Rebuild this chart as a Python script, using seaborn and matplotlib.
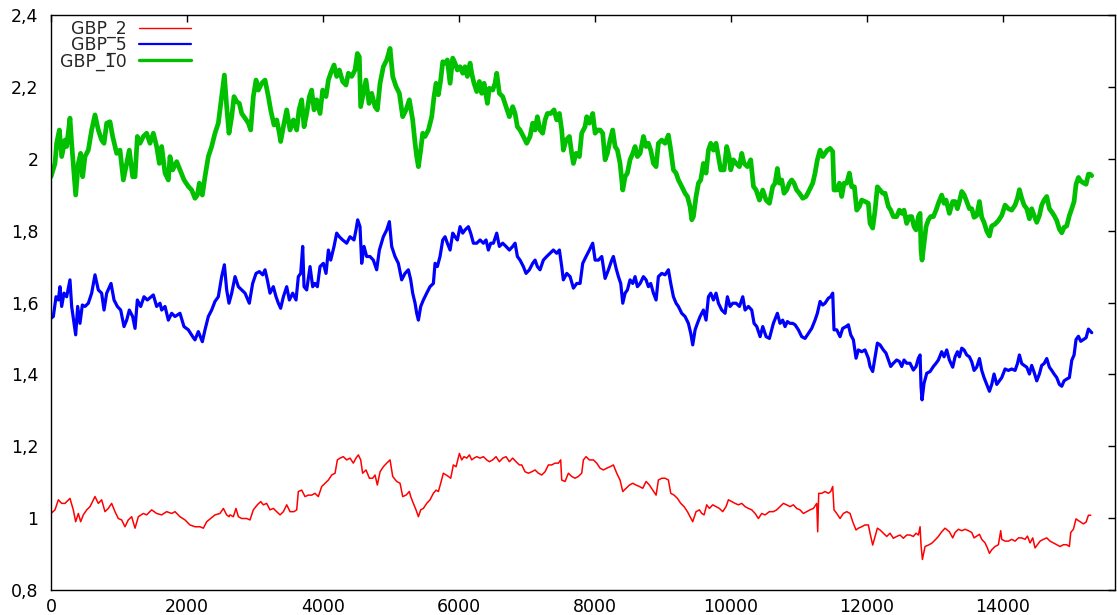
import matplotlib
matplotlib.use("Agg")
import matplotlib.pyplot as plt
from matplotlib.ticker import FuncFormatter
import pandas as pd
import seaborn as sns

# ---- GBP_2 ----
x_gbp2 = [
    0, 59, 108, 157, 206, 279, 328, 363, 402, 436, 475, 525, 574, 647, 696, 745, 794, 843, 892, 941,
    990, 1039, 1088, 1137, 1186, 1236, 1285, 1358, 1407, 1480, 1554, 1628, 1701, 1775, 1824, 1897, 1971,
    2044, 2118, 2192, 2241, 2290, 2348, 2412, 2486, 2535, 2584, 2618,
    2633, 2682, 2721, 2756, 2805, 2878, 2927, 2976, 3035, 3084, 3123, 3172, 3221, 3270, 3320, 3369, 3418,
    3467, 3516, 3574, 3614, 3638, 3687, 3736, 3785, 3834, 3883, 3932, 3982, 4030, 4080, 4129, 4178, 4212,
    4251, 4300, 4349, 4398, 4447, 4486, 4521, 4555, 4584, 4634, 4683, 4732, 4766, 4800, 4840, 4888, 4938,
    4987, 5026, 5085, 5134, 5173, 5222, 5271,
    5291, 5330, 5369, 5404, 5438, 5477, 5526, 5575, 5624, 5664, 5698, 5732, 5771, 5811, 5845, 5879, 5918,
    5958, 6007, 6041, 6075, 6115, 6154, 6188, 6222, 6262, 6311, 6360, 6409, 6448, 6497, 6546, 6595, 6644,
    6693, 6742, 6791, 6840, 6889, 6924, 6973, 7022, 7071, 7120, 7169, 7218, 7267, 7316, 7365, 7414, 7463,
    7497, 7512, 7561, 7610, 7659, 7708, 7757, 7806, 7831, 7870, 7919,
    7978, 8027, 8076, 8125, 8174, 8223, 8272, 8321, 8370, 8410, 8459, 8508, 8557, 8606, 8655, 8704, 8753,
    8802, 8851, 8900, 8934, 8983, 9032, 9081, 9116, 9165, 9214, 9263, 9312, 9361, 9400, 9439, 9488, 9537,
    9572, 9606, 9645, 9684, 9733, 9782, 9831, 9880, 9929, 9964, 10013, 10062, 10111, 10160, 10209, 10258,
    10307, 10356, 10405, 10454, 10503, 10567,
    10625, 10674, 10723, 10772, 10821, 10870, 10919, 10968, 11017, 11066, 11115, 11164, 11214, 11263,
    11277, 11292, 11336, 11385, 11434, 11468, 11498, 11517, 11557, 11606, 11655, 11704, 11753, 11792,
    11841, 11875, 11924, 11973, 12022, 12047, 12086, 12121, 12155, 12194, 12243, 12292, 12341, 12390,
    12439, 12488, 12537, 12586, 12635, 12684, 12724, 12758, 12783, 12797, 12817, 12856, 12905, 12954,
    13003, 13052, 13101, 13150, 13214,
    13263, 13298, 13347, 13396, 13445, 13494, 13543, 13577, 13616, 13656, 13690, 13739, 13773, 13803,
    13837, 13886, 13935, 13969, 13984, 14033, 14082, 14131, 14180, 14229, 14278, 14327, 14362, 14401,
    14440, 14474, 14509, 14548, 14597, 14646, 14695, 14744, 14793, 14842, 14891, 14940, 14979, 14999,
    15038, 15077, 15112, 15146, 15185, 15225, 15259, 15293,
]
gbp2 = [
    1.013, 1.023, 1.051, 1.041, 1.041, 1.055, 1.023, 0.990, 1.013, 0.990, 1.009, 1.023, 1.032, 1.060,
    1.041, 1.051, 1.018, 1.027, 1.041, 1.018, 0.999, 0.995, 0.976, 0.995, 1.004, 0.972, 1.004, 1.013,
    1.009, 1.023, 1.013, 1.009, 1.018, 1.013, 1.018, 1.004, 0.995, 0.981, 0.976, 0.976, 0.972, 0.990,
    0.999, 1.009, 1.013, 1.027, 1.009, 1.004,
    1.009, 1.004, 1.027, 1.004, 0.999, 0.999, 0.995, 1.023, 1.037, 1.046, 1.037, 1.041, 1.023, 1.027,
    1.018, 1.009, 1.018, 1.037, 1.018, 1.018, 1.023, 1.074, 1.078, 1.060, 1.064, 1.064, 1.069, 1.060,
    1.088, 1.097, 1.106, 1.120, 1.125, 1.162, 1.167, 1.171, 1.162, 1.167, 1.153, 1.167, 1.176, 1.162,
    1.125, 1.134, 1.111, 1.111, 1.120, 1.092, 1.129, 1.143, 1.153, 1.162, 1.116, 1.102, 1.097, 1.060,
    1.064, 1.074,
    1.060, 1.041, 1.023, 1.004, 1.023, 1.027, 1.041, 1.051, 1.069, 1.078, 1.074, 1.097, 1.125, 1.120,
    1.116, 1.111, 1.148, 1.143, 1.180, 1.162, 1.171, 1.167, 1.176, 1.162, 1.167, 1.171, 1.167, 1.171,
    1.162, 1.157, 1.162, 1.171, 1.157, 1.167, 1.171, 1.157, 1.167, 1.157, 1.148, 1.148, 1.129, 1.125,
    1.129, 1.134, 1.125, 1.120, 1.129, 1.148, 1.148, 1.153, 1.153, 1.162, 1.106, 1.102, 1.125, 1.116,
    1.111, 1.116, 1.125, 1.162, 1.171, 1.162,
    1.162, 1.153, 1.139, 1.134, 1.139, 1.143, 1.148, 1.125, 1.106, 1.074, 1.083, 1.092, 1.097, 1.092,
    1.088, 1.083, 1.102, 1.092, 1.078, 1.064, 1.106, 1.111, 1.111, 1.106, 1.069, 1.064, 1.055, 1.041,
    1.032, 1.018, 1.004, 0.990, 1.018, 1.023, 1.013, 1.009, 1.037, 1.027, 1.037, 1.032, 1.027, 1.018,
    1.032, 1.051, 1.046, 1.041, 1.037, 1.041, 1.032, 1.027, 1.023, 1.013, 0.999, 1.013, 1.009, 1.018,
    1.018, 1.023, 1.032, 1.041, 1.037, 1.032, 1.037, 1.027, 1.023, 1.013, 1.018, 1.023, 1.027, 1.041,
    0.962, 1.069, 1.069, 1.074, 1.069, 1.074, 1.088, 1.023, 1.013, 0.999, 1.013, 1.018, 1.013, 0.990,
    0.967, 0.972, 0.976, 0.981, 0.981, 0.958, 0.925, 0.949, 0.972, 0.967, 0.958, 0.949, 0.958, 0.944,
    0.949, 0.953, 0.944, 0.953, 0.953, 0.949, 0.958, 0.953, 0.976, 0.925, 0.885, 0.921, 0.925, 0.930,
    0.939, 0.949, 0.962, 0.972, 0.962,
    0.945, 0.960, 0.969, 0.965, 0.969, 0.965, 0.960, 0.945, 0.950, 0.955, 0.941, 0.931, 0.917, 0.902,
    0.912, 0.921, 0.926, 0.965, 0.941, 0.936, 0.936, 0.941, 0.936, 0.945, 0.945, 0.941, 0.950, 0.931,
    0.945, 0.917, 0.926, 0.936, 0.941, 0.945, 0.936, 0.931, 0.926, 0.921, 0.926, 0.926, 0.921, 0.960,
    0.969, 0.998, 0.993, 0.989, 0.984, 0.989, 1.008, 1.008,
]

# ---- GBP_5 ----
x_gbp5 = [
    0, 34, 74, 108, 132, 157, 191, 230, 279, 304, 363, 392, 426, 461, 500, 549, 598, 647, 696, 745, 780,
    819, 883, 927, 976, 1025, 1074, 1113, 1152, 1201, 1236, 1270, 1319, 1368, 1417, 1505, 1554, 1603,
    1628, 1677, 1726, 1775, 1824, 1897, 1956, 2020, 2084, 2118, 2167, 2226, 2265, 2314, 2363, 2412,
    2461, 2510, 2550, 2584, 2618,
    2658, 2707, 2756, 2805, 2854, 2917, 2966, 3016, 3065, 3114, 3148, 3182, 3221, 3270, 3310, 3344,
    3378, 3418, 3467, 3506, 3555, 3604, 3638, 3673, 3702, 3722, 3761, 3810, 3849, 3883, 3918, 3957,
    4006, 4045, 4080, 4114, 4163, 4202, 4241, 4290, 4349, 4398, 4457, 4486, 4511, 4545, 4570, 4604,
    4643, 4692, 4741, 4790, 4830, 4888, 4938, 4977, 5011, 5060, 5109, 5158, 5207, 5256,
    5291, 5320, 5355, 5379, 5404, 5438, 5477, 5526, 5575, 5624, 5649, 5683, 5722, 5762, 5796, 5830,
    5870, 5909, 5943, 5977, 6017, 6056, 6090, 6139, 6173, 6213, 6262, 6311, 6360, 6399, 6433, 6468,
    6507, 6556, 6595, 6644, 6693, 6742, 6791, 6826, 6860, 6899, 6948, 6987, 7036, 7085, 7120, 7154,
    7193, 7242, 7291, 7340, 7389, 7438, 7478, 7512, 7536, 7586, 7635, 7684, 7733, 7782, 7821, 7870, 7919,
    7968, 8003, 8052, 8101, 8150, 8199, 8248, 8272, 8312, 8346, 8380, 8410, 8444, 8478, 8517, 8557,
    8591, 8625, 8665, 8714, 8753, 8787, 8821, 8861, 8900, 8934, 8983, 9032, 9081, 9116, 9155, 9194,
    9228, 9277, 9326, 9375, 9410, 9439, 9474, 9508, 9547, 9596, 9635, 9670, 9704, 9743, 9782, 9817,
    9866, 9915, 9949, 9988, 10028, 10077, 10126, 10175, 10209, 10258, 10307, 10341, 10381, 10430,
    10469, 10518, 10567,
    10625, 10684, 10723, 10762, 10797, 10831, 10870, 10909, 10944, 10993, 11042, 11091, 11140, 11189,
    11238, 11272, 11312, 11351, 11385, 11434, 11468, 11498, 11517, 11557, 11606, 11645, 11694, 11728,
    11763, 11802, 11841, 11875, 11924, 11973, 12022, 12047, 12086, 12121, 12155, 12194, 12243, 12282,
    12317, 12351, 12390, 12439, 12478, 12513, 12547, 12586, 12635, 12684, 12724, 12758, 12783, 12797,
    12812, 12841, 12881, 12930, 12979, 13018, 13052, 13101, 13136, 13175, 13214,
    13263, 13298, 13332, 13361, 13396, 13430, 13469, 13508, 13543, 13577, 13616, 13656, 13690, 13724,
    13763, 13803, 13837, 13871, 13911, 13950, 13984, 14033, 14082, 14131, 14180, 14215, 14244, 14278,
    14313, 14352, 14391, 14425, 14460, 14499, 14538, 14572, 14607, 14646, 14685, 14720, 14754, 14793,
    14832, 14867, 14901, 14940, 14979, 15014, 15048, 15077, 15112, 15146, 15185, 15225, 15259, 15284,
    15308,
]
gbp5 = [
    1.556, 1.561, 1.616, 1.607, 1.644, 1.589, 1.626, 1.616, 1.663, 1.589, 1.510, 1.589, 1.542, 1.593,
    1.589, 1.598, 1.626, 1.677, 1.635, 1.626, 1.579, 1.626, 1.653, 1.607, 1.589, 1.579, 1.533, 1.551,
    1.579, 1.561, 1.528, 1.607, 1.589, 1.616, 1.607, 1.621, 1.589, 1.598, 1.579, 1.589, 1.551, 1.570,
    1.561, 1.570, 1.533, 1.524, 1.505, 1.496, 1.519, 1.491, 1.524, 1.561, 1.579, 1.603, 1.616, 1.672,
    1.705, 1.635, 1.598,
    1.626, 1.672, 1.644, 1.635, 1.626, 1.598, 1.653, 1.681, 1.686, 1.677, 1.691, 1.663, 1.626, 1.644,
    1.616, 1.598, 1.584, 1.616, 1.644, 1.607, 1.626, 1.607, 1.672, 1.681, 1.756, 1.644, 1.635, 1.700,
    1.644, 1.653, 1.644, 1.700, 1.709, 1.681, 1.746, 1.718, 1.756, 1.793, 1.783, 1.774, 1.765, 1.783,
    1.774, 1.802, 1.830, 1.811, 1.709, 1.756, 1.728, 1.728, 1.718, 1.691, 1.746, 1.783, 1.802, 1.825,
    1.756, 1.728, 1.709, 1.663, 1.681, 1.691,
    1.663, 1.626, 1.598, 1.570, 1.551, 1.589, 1.607, 1.626, 1.644, 1.653, 1.709, 1.700, 1.728, 1.774,
    1.783, 1.765, 1.746, 1.793, 1.783, 1.774, 1.811, 1.793, 1.802, 1.811, 1.793, 1.765, 1.765, 1.774,
    1.765, 1.774, 1.746, 1.765, 1.765, 1.793, 1.756, 1.765, 1.756, 1.746, 1.756, 1.765, 1.728, 1.718,
    1.700, 1.681, 1.691, 1.709, 1.718, 1.700, 1.691, 1.718, 1.728, 1.737, 1.746, 1.737, 1.746, 1.700,
    1.663, 1.681, 1.672, 1.640, 1.653, 1.653, 1.709, 1.728, 1.746,
    1.765, 1.718, 1.718, 1.728, 1.667, 1.691, 1.718, 1.728, 1.695, 1.672, 1.653, 1.598, 1.626, 1.635,
    1.663, 1.653, 1.672, 1.644, 1.653, 1.672, 1.663, 1.644, 1.653, 1.626, 1.607, 1.672, 1.681, 1.677,
    1.691, 1.653, 1.616, 1.598, 1.589, 1.570, 1.561, 1.542, 1.514, 1.482, 1.524, 1.542, 1.561, 1.579,
    1.551, 1.616, 1.626, 1.607, 1.626, 1.598, 1.579, 1.570, 1.616, 1.589, 1.598, 1.598, 1.589, 1.616,
    1.579, 1.589, 1.579, 1.542, 1.533, 1.505, 1.533, 1.505, 1.500,
    1.542, 1.570, 1.542, 1.551, 1.533, 1.547, 1.542, 1.542, 1.538, 1.524, 1.505, 1.500, 1.514, 1.528,
    1.551, 1.570, 1.603, 1.593, 1.598, 1.612, 1.616, 1.626, 1.524, 1.524, 1.505, 1.528, 1.533, 1.538,
    1.510, 1.496, 1.445, 1.468, 1.463, 1.468, 1.445, 1.422, 1.408, 1.449, 1.487, 1.482, 1.468, 1.459,
    1.440, 1.422, 1.431, 1.440, 1.436, 1.422, 1.440, 1.431, 1.431, 1.412, 1.422, 1.445, 1.454, 1.366,
    1.329, 1.375, 1.403, 1.408, 1.422, 1.431, 1.440, 1.463, 1.449, 1.468, 1.440,
    1.420, 1.449, 1.463, 1.449, 1.473, 1.468, 1.454, 1.449, 1.435, 1.411, 1.420, 1.444, 1.411, 1.391,
    1.372, 1.353, 1.372, 1.401, 1.372, 1.382, 1.391, 1.415, 1.411, 1.415, 1.411, 1.430, 1.454, 1.430,
    1.425, 1.420, 1.401, 1.425, 1.406, 1.382, 1.401, 1.425, 1.430, 1.444, 1.420, 1.411, 1.401, 1.391,
    1.372, 1.367, 1.382, 1.387, 1.391, 1.439, 1.454, 1.497, 1.506, 1.492, 1.497, 1.502, 1.526, 1.521,
    1.516,
]

# ---- GBP_10 ----
x_gbp10 = [
    0, 59, 83, 123, 157, 206, 230, 279, 304, 363, 402, 436, 466, 500, 549, 598, 647, 696, 745, 780, 819,
    868, 907, 966, 1015, 1064, 1103, 1152, 1201, 1236, 1270, 1309, 1358, 1407, 1456, 1505, 1554, 1594,
    1628, 1677, 1726, 1750, 1790, 1849, 1898, 1957, 2020, 2069, 2118, 2153, 2182, 2226, 2265, 2314,
    2363, 2412, 2461, 2511, 2550, 2584, 2618,
    2658, 2692, 2731, 2770, 2805, 2854, 2903, 2937, 2976, 3016, 3050, 3099, 3148, 3197, 3231, 3280,
    3320, 3359, 3378, 3418, 3467, 3516, 3565, 3614, 3648, 3687, 3722, 3761, 3800, 3834, 3869, 3908,
    3957, 3996, 4045, 4080, 4114, 4163, 4202, 4241, 4290, 4339, 4374, 4423, 4472, 4506, 4535, 4555,
    4594, 4633, 4678, 4717, 4766, 4800, 4840, 4888, 4938, 4987, 5026, 5075, 5124, 5173, 5222, 5271,
    5320, 5355, 5379, 5404, 5438, 5467, 5502, 5551, 5600, 5634, 5664, 5698, 5732, 5762, 5796, 5830,
    5870, 5909, 5943, 5977, 6017, 6056, 6090, 6124, 6164, 6188, 6222, 6262, 6301, 6335, 6370, 6419,
    6448, 6497, 6531, 6556, 6595, 6644, 6693, 6742, 6791, 6826, 6860, 6899, 6948, 6997, 7046, 7085,
    7120, 7154, 7193, 7232, 7267, 7301, 7350, 7399, 7438, 7478, 7512, 7536, 7576, 7625, 7659, 7684,
    7723, 7772, 7806, 7855, 7880, 7919,
    7968, 8003, 8037, 8076, 8115, 8150, 8184, 8223, 8262, 8297, 8331, 8370, 8410, 8444, 8478, 8517,
    8557, 8591, 8625, 8665, 8714, 8753, 8787, 8821, 8861, 8900, 8934, 8983, 9032, 9081, 9116, 9155,
    9194, 9228, 9277, 9326, 9361, 9400, 9425, 9449, 9488, 9523, 9557, 9596, 9635, 9670, 9704, 9743,
    9782, 9817, 9851, 9900, 9939, 9974, 9998, 10037, 10077, 10126, 10160, 10194, 10243, 10292, 10332,
    10371, 10420, 10469, 10518, 10567,
    10615, 10650, 10684, 10713, 10748, 10782, 10821, 10860, 10895, 10929, 10968, 11008, 11057, 11106,
    11155, 11204, 11238, 11272, 11312, 11351, 11385, 11419, 11459, 11498, 11517, 11557, 11596, 11630,
    11665, 11704, 11743, 11777, 11817, 11851, 11890, 11924, 11973, 12022, 12047, 12086, 12121, 12155,
    12194, 12233, 12268, 12317, 12351, 12390, 12439, 12478, 12513, 12547, 12586, 12626, 12660, 12694,
    12724, 12758, 12783, 12797, 12812, 12841, 12871, 12905, 12939, 12979, 13018, 13052, 13101, 13136,
    13165, 13214,
    13263, 13298, 13332, 13361, 13396, 13430, 13469, 13508, 13543, 13577, 13616, 13656, 13690, 13724,
    13763, 13803, 13837, 13886, 13935, 13984, 14033, 14082, 14131, 14180, 14215, 14244, 14278, 14313,
    14352, 14391, 14425, 14460, 14499, 14538, 14572, 14607, 14646, 14685, 14720, 14754, 14793, 14832,
    14867, 14901, 14940, 14979, 15014, 15048, 15077, 15112, 15146, 15185, 15225, 15259, 15284, 15308,
]
gbp10 = [
    1.950, 1.987, 2.043, 2.080, 2.006, 2.052, 2.034, 2.113, 2.043, 1.899, 1.987, 2.015, 1.950, 2.006,
    2.024, 2.080, 2.122, 2.080, 2.052, 2.043, 2.099, 2.103, 2.062, 2.015, 2.024, 1.941, 1.978, 2.024,
    1.950, 1.950, 2.062, 2.043, 2.062, 2.071, 2.043, 2.071, 2.034, 1.987, 2.034, 1.960, 1.941, 2.006,
    1.969, 1.992, 1.969, 1.941, 1.923, 1.913, 1.890, 1.899, 1.932, 1.899, 1.950, 2.006, 2.034, 2.071,
    2.099, 2.173, 2.233, 2.145, 2.071,
    2.117, 2.173, 2.159, 2.154, 2.126, 2.113, 2.099, 2.080, 2.173, 2.219, 2.191, 2.210, 2.219, 2.173,
    2.136, 2.094, 2.108, 2.071, 2.048, 2.089, 2.136, 2.080, 2.108, 2.080, 2.136, 2.164, 2.089, 2.126,
    2.173, 2.191, 2.136, 2.164, 2.126, 2.191, 2.173, 2.219, 2.238, 2.261, 2.229, 2.247, 2.215, 2.205,
    2.238, 2.229, 2.247, 2.293, 2.284, 2.145, 2.182, 2.219, 2.154, 2.182, 2.145, 2.136, 2.210, 2.256,
    2.275, 2.307, 2.229, 2.201, 2.182, 2.117, 2.136, 2.164,
    2.108, 2.043, 2.006, 1.978, 2.024, 2.071, 2.062, 2.080, 2.117, 2.173, 2.210, 2.178, 2.219, 2.270,
    2.266, 2.275, 2.210, 2.280, 2.266, 2.247, 2.256, 2.238, 2.256, 2.229, 2.266, 2.238, 2.210, 2.187,
    2.215, 2.182, 2.210, 2.154, 2.196, 2.191, 2.210, 2.238, 2.182, 2.173, 2.145, 2.117, 2.145, 2.126,
    2.089, 2.080, 2.062, 2.043, 2.062, 2.099, 2.080, 2.117, 2.080, 2.071, 2.108, 2.126, 2.126, 2.136,
    2.108, 2.126, 2.080, 2.024, 2.052, 2.062, 2.015, 1.987, 2.015, 2.006, 2.071, 2.089, 2.117, 2.099,
    2.126, 2.071, 2.080, 2.080, 2.071, 1.997, 2.015, 2.052, 2.080, 2.034, 2.024, 1.987, 1.913, 1.950,
    1.960, 1.997, 2.015, 2.034, 2.006, 2.015, 2.062, 2.034, 2.043, 2.024, 1.987, 1.978, 2.043, 2.052,
    2.043, 2.066, 2.024, 1.969, 1.960, 1.941, 1.923, 1.904, 1.895, 1.867, 1.830, 1.839, 1.895, 1.932,
    1.941, 1.987, 1.960, 2.024, 2.043, 2.024, 2.043, 2.006, 1.969, 1.969, 2.034, 2.006, 1.969, 1.997,
    1.987, 1.978, 2.015, 1.987, 1.978, 1.997, 1.923, 1.913, 1.885, 1.913, 1.885, 1.876,
    1.922, 1.932, 1.973, 1.932, 1.941, 1.904, 1.913, 1.932, 1.941, 1.932, 1.913, 1.904, 1.890, 1.895,
    1.913, 1.932, 1.960, 1.997, 2.024, 2.006, 2.015, 2.024, 2.029, 2.020, 1.913, 1.913, 1.932, 1.895,
    1.932, 1.932, 1.960, 1.922, 1.922, 1.857, 1.867, 1.885, 1.881, 1.876, 1.820, 1.807, 1.857, 1.922,
    1.913, 1.904, 1.904, 1.867, 1.857, 1.839, 1.839, 1.857, 1.848, 1.857, 1.820, 1.839, 1.839, 1.811,
    1.802, 1.839, 1.848, 1.746, 1.718, 1.765, 1.811, 1.830, 1.839, 1.839, 1.857, 1.876, 1.899, 1.876,
    1.885, 1.848,
    1.881, 1.881, 1.861, 1.881, 1.909, 1.900, 1.881, 1.861, 1.861, 1.837, 1.842, 1.881, 1.837, 1.823,
    1.799, 1.785, 1.813, 1.818, 1.828, 1.842, 1.871, 1.861, 1.857, 1.871, 1.890, 1.914, 1.890, 1.871,
    1.861, 1.833, 1.861, 1.842, 1.823, 1.842, 1.871, 1.885, 1.895, 1.861, 1.852, 1.842, 1.828, 1.804,
    1.794, 1.809, 1.813, 1.842, 1.861, 1.881, 1.929, 1.948, 1.938, 1.933, 1.929, 1.957, 1.957, 1.953,
]

series_names = ["GBP_2", "GBP_5", "GBP_10"]
series_colors = {"GBP_2": "#ff0000", "GBP_5": "#0000ff", "GBP_10": "#00c000"}
series_widths = {"GBP_2": 1.1, "GBP_5": 2.3, "GBP_10": 3.4}

x_ticks = [0, 2000, 4000, 6000, 8000, 10000, 12000, 14000]
y_ticks = [0.8, 1.0, 1.2, 1.4, 1.6, 1.8, 2.0, 2.2, 2.4]

frames = []
for name, xs, ys in [("GBP_2", x_gbp2, gbp2), ("GBP_5", x_gbp5, gbp5), ("GBP_10", x_gbp10, gbp10)]:
    assert len(xs) == len(ys), (name, len(xs), len(ys))
    frames.append(pd.DataFrame({"t": xs, "value": ys, "series": name}))
data = pd.concat(frames, ignore_index=True)

sns.set_theme(style="white")
plt.rcParams["font.family"] = ["DejaVu Sans"]

fig = plt.figure(figsize=(11.17, 6.15), dpi=100)
ax = fig.add_axes([51 / 1117, 25 / 615, 1064 / 1117, 575 / 615])

for name in series_names:
    sub = data[data["series"] == name]
    sns.lineplot(data=sub, x="t", y="value", ax=ax, color=series_colors[name],
                 linewidth=series_widths[name], label=name, estimator=None, sort=False)

ax.set_xlim(0, 15650)
ax.set_ylim(0.8, 2.4)
ax.set_xticks(x_ticks)
ax.set_yticks(y_ticks)
ax.yaxis.set_major_formatter(FuncFormatter(lambda v, p: f"{v:g}".replace(".", ",")))
ax.xaxis.set_major_formatter(FuncFormatter(lambda v, p: f"{int(round(v))}"))
ax.set_xlabel("")
ax.set_ylabel("")
ax.tick_params(axis="both", direction="in", length=5, width=1, color="black",
               labelsize=12.5, labelcolor="black", top=True, right=True)
ax.tick_params(axis="x", pad=6)
ax.tick_params(axis="y", pad=9)
for s in ax.spines.values():
    s.set_color("black")
    s.set_linewidth(1.0)
    s.set_visible(True)

# gnuplot-style key: right-aligned labels followed by the line samples
handles, labels = ax.get_legend_handles_labels()
leg = ax.legend(handles, labels, loc="upper right", bbox_to_anchor=(140 / 1064, 1 - 5 / 575),
                frameon=False, markerfirst=False, fontsize=12.5, handlelength=3.0,
                handletextpad=0.7, labelspacing=-0.12, borderpad=0.0, borderaxespad=0.0)
for h, name in zip(leg.get_lines(), labels):
    h.set_linewidth({"GBP_2": 1.0, "GBP_5": 1.6, "GBP_10": 2.4}[name])

fig.savefig("out.png", dpi=100, facecolor="white")
